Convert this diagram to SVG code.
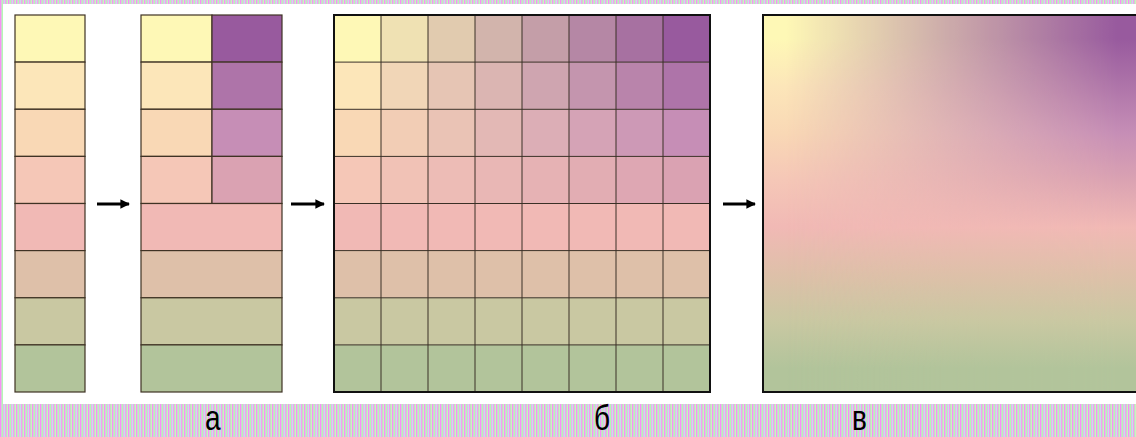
<svg xmlns="http://www.w3.org/2000/svg" width="1136" height="437" viewBox="0 0 1136 437">
<defs>
<pattern id="stripes" x="0" y="0" width="8" height="10" patternUnits="userSpaceOnUse">
<rect x="0" y="0" width="1" height="10" fill="#f890f4"/>
<rect x="1" y="0" width="1" height="10" fill="#d4cfd8"/>
<rect x="2" y="0" width="1" height="10" fill="#b4f8b4"/>
<rect x="3" y="0" width="1" height="10" fill="#e8b4ec"/>
<rect x="4" y="0" width="1" height="10" fill="#c4e4e8"/>
<rect x="5" y="0" width="1" height="10" fill="#f4a0f0"/>
<rect x="6" y="0" width="1" height="10" fill="#c8d8c8"/>
<rect x="7" y="0" width="1" height="10" fill="#c8f4c0"/>
</pattern>
<marker id="ah" viewBox="0 0 10 10" refX="9" refY="5" markerWidth="3.2" markerHeight="3.2" orient="auto" markerUnits="strokeWidth">
<path d="M0,0 L10,5 L0,10 z" fill="#000"/>
</marker>
<linearGradient id="vL" x1="0" y1="15" x2="0" y2="392" gradientUnits="userSpaceOnUse">
<stop offset="0.0625" stop-color="#FEF8B6"/>
<stop offset="0.1875" stop-color="#FCE6B9"/>
<stop offset="0.3125" stop-color="#F9D8B5"/>
<stop offset="0.4375" stop-color="#F5C7B7"/>
<stop offset="0.5625" stop-color="#F1B9B5"/>
<stop offset="0.6875" stop-color="#DEC0A9"/>
<stop offset="0.8125" stop-color="#C9C8A2"/>
<stop offset="0.9375" stop-color="#B2C49B"/>
</linearGradient>
<linearGradient id="vR" x1="0" y1="15" x2="0" y2="392" gradientUnits="userSpaceOnUse">
<stop offset="0.0625" stop-color="#985A9E"/>
<stop offset="0.1875" stop-color="#AE74A9"/>
<stop offset="0.3125" stop-color="#C68EB6"/>
<stop offset="0.4375" stop-color="#DAA2B2"/>
<stop offset="0.5625" stop-color="#F1B9B5"/>
<stop offset="0.6875" stop-color="#DEC0A9"/>
<stop offset="0.8125" stop-color="#C9C8A2"/>
<stop offset="0.9375" stop-color="#B2C49B"/>
</linearGradient>
<linearGradient id="hx" x1="786" y1="0" x2="1117" y2="0" gradientUnits="userSpaceOnUse">
<stop offset="0" stop-color="#000"/>
<stop offset="1" stop-color="#fff"/>
</linearGradient>
<mask id="mx" maskUnits="userSpaceOnUse" x="760" y="10" width="390" height="390">
<rect x="760" y="10" width="390" height="390" fill="url(#hx)"/>
</mask>
<style>
.cell{stroke:#3f3224;stroke-width:1.2}
.g{stroke:#3a3026;stroke-width:1;fill:none}
.arrow{stroke:#000;stroke-width:3;fill:none;marker-end:url(#ah)}
.lbl{font-family:"Liberation Sans",Arial,sans-serif;font-size:28px;fill:#000}
</style>
</defs>

<rect x="0" y="0" width="1136" height="437" fill="url(#stripes)"/>
<rect x="3" y="4" width="1133" height="400" fill="#fff"/>

<g id="column-a1">
<rect class="cell" x="15" y="15" width="70" height="47.1" fill="#FEF8B6"/>
<rect class="cell" x="15" y="62.1" width="70" height="47.1" fill="#FCE6B9"/>
<rect class="cell" x="15" y="109.3" width="70" height="47.1" fill="#F9D8B5"/>
<rect class="cell" x="15" y="156.4" width="70" height="47.1" fill="#F5C7B7"/>
<rect class="cell" x="15" y="203.5" width="70" height="47.1" fill="#F1B9B5"/>
<rect class="cell" x="15" y="250.6" width="70" height="47.1" fill="#DEC0A9"/>
<rect class="cell" x="15" y="297.8" width="70" height="47.1" fill="#C9C8A2"/>
<rect class="cell" x="15" y="344.9" width="70" height="47.1" fill="#B2C49B"/>
</g>

<g id="column-a2">
<rect class="cell" x="141" y="15" width="71" height="47.1" fill="#FEF8B6"/>
<rect class="cell" x="141" y="62.1" width="71" height="47.1" fill="#FCE6B9"/>
<rect class="cell" x="141" y="109.3" width="71" height="47.1" fill="#F9D8B5"/>
<rect class="cell" x="141" y="156.4" width="71" height="47.1" fill="#F5C7B7"/>
<rect class="cell" x="212" y="15" width="70" height="47.1" fill="#985A9E"/>
<rect class="cell" x="212" y="62.1" width="70" height="47.1" fill="#AE74A9"/>
<rect class="cell" x="212" y="109.3" width="70" height="47.1" fill="#C68EB6"/>
<rect class="cell" x="212" y="156.4" width="70" height="47.1" fill="#DAA2B2"/>
<rect class="cell" x="141" y="203.5" width="141" height="47.1" fill="#F1B9B5"/>
<rect class="cell" x="141" y="250.6" width="141" height="47.1" fill="#DEC0A9"/>
<rect class="cell" x="141" y="297.8" width="141" height="47.1" fill="#C9C8A2"/>
<rect class="cell" x="141" y="344.9" width="141" height="47.1" fill="#B2C49B"/>
</g>

<g id="grid-b">
<g>
<rect x="334" y="15" width="47" height="47.1" fill="#FEF8B6"/>
<rect x="381" y="15" width="47" height="47.1" fill="#EFE1B3"/>
<rect x="428" y="15" width="47" height="47.1" fill="#E1CBAF"/>
<rect x="475" y="15" width="47" height="47.1" fill="#D2B4AC"/>
<rect x="522" y="15" width="47" height="47.1" fill="#C49EA8"/>
<rect x="569" y="15" width="47" height="47.1" fill="#B587A5"/>
<rect x="616" y="15" width="47" height="47.1" fill="#A771A1"/>
<rect x="663" y="15" width="47" height="47.1" fill="#985A9E"/>

<rect x="334" y="62.1" width="47" height="47.2" fill="#FCE6B9"/>
<rect x="381" y="62.1" width="47" height="47.2" fill="#F1D6B7"/>
<rect x="428" y="62.1" width="47" height="47.2" fill="#E6C5B4"/>
<rect x="475" y="62.1" width="47" height="47.2" fill="#DBB5B2"/>
<rect x="522" y="62.1" width="47" height="47.2" fill="#CFA5B0"/>
<rect x="569" y="62.1" width="47" height="47.2" fill="#C495AE"/>
<rect x="616" y="62.1" width="47" height="47.2" fill="#B984AB"/>
<rect x="663" y="62.1" width="47" height="47.2" fill="#AE74A9"/>

<rect x="334" y="109.3" width="47" height="47.1" fill="#F9D8B5"/>
<rect x="381" y="109.3" width="47" height="47.1" fill="#F2CDB5"/>
<rect x="428" y="109.3" width="47" height="47.1" fill="#EAC3B5"/>
<rect x="475" y="109.3" width="47" height="47.1" fill="#E3B8B5"/>
<rect x="522" y="109.3" width="47" height="47.1" fill="#DCAEB6"/>
<rect x="569" y="109.3" width="47" height="47.1" fill="#D5A3B6"/>
<rect x="616" y="109.3" width="47" height="47.1" fill="#CD99B6"/>
<rect x="663" y="109.3" width="47" height="47.1" fill="#C68EB6"/>

<rect x="334" y="156.4" width="47" height="47.1" fill="#F5C7B7"/>
<rect x="381" y="156.4" width="47" height="47.1" fill="#F1C2B6"/>
<rect x="428" y="156.4" width="47" height="47.1" fill="#EDBCB6"/>
<rect x="475" y="156.4" width="47" height="47.1" fill="#E9B7B5"/>
<rect x="522" y="156.4" width="47" height="47.1" fill="#E6B2B4"/>
<rect x="569" y="156.4" width="47" height="47.1" fill="#E2ADB3"/>
<rect x="616" y="156.4" width="47" height="47.1" fill="#DEA7B3"/>
<rect x="663" y="156.4" width="47" height="47.1" fill="#DAA2B2"/>

<rect x="334" y="203.5" width="376" height="47.1" fill="#F1B9B5"/>
<rect x="334" y="250.6" width="376" height="47.2" fill="#DEC0A9"/>
<rect x="334" y="297.8" width="376" height="47.1" fill="#C9C8A2"/>
<rect x="334" y="344.9" width="376" height="47.1" fill="#B2C49B"/>
</g>
<path class="g" d="M381,15V392M428,15V392M475,15V392M522,15V392M569,15V392M616,15V392M663,15V392M334,62.1H710M334,109.3H710M334,156.4H710M334,203.5H710M334,250.6H710M334,297.8H710M334,344.9H710"/>
<rect x="334" y="15" width="376" height="377" fill="none" stroke="#111" stroke-width="2"/>
</g>

<g id="gradient-c">
<rect x="763" y="15" width="380" height="377" fill="url(#vL)"/>
<rect x="763" y="15" width="380" height="377" fill="url(#vR)" mask="url(#mx)"/>
<rect x="763" y="15" width="380" height="377" fill="none" stroke="#111" stroke-width="2"/>
</g>

<g id="connectors">
<line class="arrow" x1="97" y1="204" x2="129" y2="204"/>
<line class="arrow" x1="291" y1="204" x2="324" y2="204"/>
<line class="arrow" x1="723" y1="204" x2="755" y2="204"/>
</g>

<g id="labels">
<text class="lbl" transform="translate(205,430) scale(1,1.25)">а</text>
<text class="lbl" transform="translate(594,430) scale(1,1.25)">б</text>
<text class="lbl" transform="translate(852,430) scale(1,1.25)">в</text>
</g>
</svg>
